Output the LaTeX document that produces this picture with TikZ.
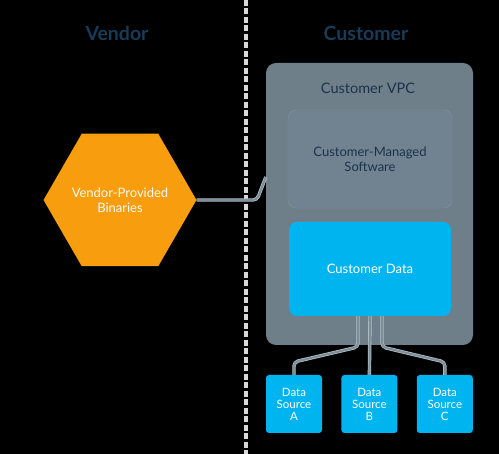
\documentclass[tikz,border=0pt]{standalone}
\usepackage{fontspec}
\setmainfont{Lato}
\usetikzlibrary{
calc,
positioning,
shapes.geometric
}
\definecolor{vpcgray}{HTML}{6E7F89}
\definecolor{softgray}{HTML}{718290}
\definecolor{linegray}{HTML}{7F8F99}
\definecolor{lineedge}{HTML}{B4C0C7}
\definecolor{navy}{HTML}{1B344C}
\definecolor{titleblue}{HTML}{173B58}
\definecolor{skyblue}{HTML}{00B4EF}
\definecolor{vendororange}{HTML}{F89D0E}
\tikzset{
	title/.style={font=\fontsize{19.5}{22}\selectfont\bfseries, text=titleblue},
	vpcbox/.style={fill=vpcgray, rounded corners=10pt, draw=none},
	softbox/.style={fill=softgray, draw=vpcgray!85!white, rounded corners=8pt, text=navy, align=center, font=\fontsize{13}{15}\selectfont},
	databox/.style={fill=skyblue, rounded corners=8pt, text=white, align=center, font=\fontsize{13}{15}\selectfont},
	srcbox/.style={fill=skyblue, rounded corners=3pt, text=white, align=center, minimum width=56pt, minimum height=58pt, inner sep=1pt, font=\fontsize{11.5}{12}\selectfont},
	link/.style={draw=lineedge, double=linegray, double distance=2pt, line width=0.7pt, rounded corners=4pt}
}

\begin{document}
\begin{tikzpicture}[x=1pt, y=-1pt]
		\fill[black] (0,0) rectangle (499,454);
		\useasboundingbox (0,0) rectangle (499,454);
		
		% dashed divider
		\draw[gray!30, line width=3.5pt, dash pattern=on 6pt off 2.5pt] (246,0) -- (246,454);
		
		\node[title] (vendor) at (117,33) {Vendor};
		\node[title] (customer) at (366,33) {Customer};
		
		\node[vpcbox, minimum width=207pt, minimum height=282pt] (vpc) at (369.5,204) {};
		\node[text=navy, font=\fontsize{14.5}{16}\selectfont] (vpctitle) at (368,88) {Customer VPC};
		
		\node[softbox, minimum width=164pt, minimum height=98pt] (software) at (370,159) {Customer-Managed\\Software};
		\node[databox, minimum width=162pt, minimum height=94pt] (data) at (370,269) {Customer Data};
		
		\node[regular polygon, regular polygon sides=6, minimum size=153pt, inner sep=0pt, fill=vendororange] (binaries) at (120,200) {};
		\node[text=white!95!orange, align=center, font=\fontsize{13}{15}\selectfont] at (binaries.center) {Vendor-Provided\\Binaries};
		
		\node[srcbox] (srcA) at (294,404) {Data\\Source\\A};
		\node[srcbox, right=19pt of srcA] (srcB) {Data\\Source\\B};
		\node[srcbox, right=19pt of srcB] (srcC) {Data\\Source\\C};
		
		\coordinate (hexjoin) at (257,200);
		\draw[link] (binaries.east) -- (hexjoin) -- ([yshift=27pt]vpc.west);
		
		\coordinate (tapA) at ([xshift=-12pt]data.south);
		\coordinate (tapC) at ([xshift=12pt]data.south);
		\draw[link] (tapA) -- (tapA |- 0,347) -- (srcA.north |- 0,362) -- (srcA.north);
		\draw[link] (data.south) -- (srcB.north);
		\draw[link] (tapC) -- (tapC |- 0,347) -- (srcC.north |- 0,362) -- (srcC.north);
	\end{tikzpicture}
\end{document}
